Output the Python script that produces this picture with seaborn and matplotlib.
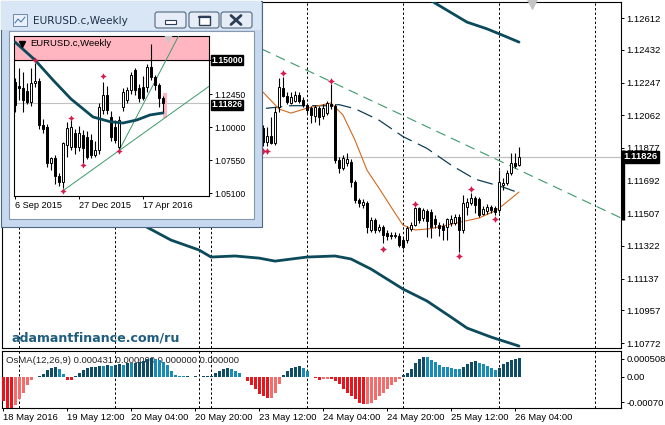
import numpy as np
import matplotlib
matplotlib.use("Agg")
import matplotlib.pyplot as plt
from matplotlib.patches import Rectangle, FancyBboxPatch
import seaborn as sns

sns.set_theme(style="white")
plt.rcParams['font.family'] = ['Liberation Sans', 'DejaVu Sans']

W, H = 665, 425

# ---------------- EURUSD.c H1 (bar 0 = 18 May 2016 20:00) ----------------
first_bar = 65   # earlier bars sit under the weekly window
opens = [1.11989, 1.11912, 1.11944, 1.11903, 1.12108, 1.12216, 1.12170, 1.12131, 1.12142, 1.12176,
         1.12148, 1.12120, 1.12103, 1.12057, 1.12103, 1.12057, 1.12074, 1.12125, 1.12114, 1.11808,
         1.11763, 1.11791, 1.11797, 1.11684, 1.11582, 1.11554, 1.11565, 1.11412, 1.11469, 1.11412,
         1.11429, 1.11395, 1.11384, 1.11378, 1.11378, 1.11355, 1.11355, 1.11418, 1.11440, 1.11537,
         1.11480, 1.11520, 1.11514, 1.11474, 1.11440, 1.11435, 1.11429, 1.11452, 1.11452, 1.11486,
         1.11412, 1.11540, 1.11565, 1.11593, 1.11588, 1.11503, 1.11520, 1.11542, 1.11537, 1.11525,
         1.11667, 1.11678, 1.11735, 1.11791, 1.11780]
highs = [1.12006, 1.11995, 1.12052, 1.12108, 1.12272, 1.12281, 1.12193, 1.12193, 1.12199, 1.12193,
         1.12165, 1.12131, 1.12114, 1.12120, 1.12114, 1.12125, 1.12142, 1.12238, 1.12125, 1.11825,
         1.11837, 1.11848, 1.11814, 1.11695, 1.11593, 1.11588, 1.11576, 1.11486, 1.11480, 1.11446,
         1.11440, 1.11412, 1.11401, 1.11401, 1.11395, 1.11373, 1.11435, 1.11457, 1.11542, 1.11540,
         1.11537, 1.11531, 1.11531, 1.11497, 1.11457, 1.11452, 1.11480, 1.11497, 1.11503, 1.11503,
         1.11610, 1.11593, 1.11621, 1.11604, 1.11599, 1.11548, 1.11559, 1.11554, 1.11548, 1.11752,
         1.11706, 1.11752, 1.11848, 1.11848, 1.11882]
lows = [1.11887, 1.11887, 1.11899, 1.11893, 1.12080, 1.12165, 1.12125, 1.12125, 1.12137, 1.12131,
        1.12108, 1.12074, 1.12018, 1.12023, 1.12006, 1.12040, 1.12063, 1.12097, 1.11791, 1.11735,
        1.11752, 1.11774, 1.11655, 1.11565, 1.11542, 1.11537, 1.11395, 1.11401, 1.11395, 1.11401,
        1.11339, 1.11355, 1.11361, 1.11367, 1.11316, 1.11305, 1.11339, 1.11406, 1.11435, 1.11452,
        1.11463, 1.11373, 1.11367, 1.11423, 1.11378, 1.11355, 1.11355, 1.11435, 1.11440, 1.11287,
        1.11395, 1.11497, 1.11554, 1.11508, 1.11486, 1.11497, 1.11503, 1.11508, 1.11497, 1.11508,
        1.11638, 1.11667, 1.11723, 1.11763, 1.11774]
closes = [1.11910, 1.11944, 1.11907, 1.12080, 1.12221, 1.12170, 1.12137, 1.12165, 1.12176, 1.12142,
          1.12120, 1.12091, 1.12063, 1.12108, 1.12052, 1.12103, 1.12131, 1.12114, 1.11808, 1.11763,
          1.11820, 1.11814, 1.11684, 1.11582, 1.11565, 1.11571, 1.11429, 1.11469, 1.11412, 1.11429,
          1.11384, 1.11378, 1.11378, 1.11384, 1.11327, 1.11316, 1.11423, 1.11440, 1.11537, 1.11469,
          1.11525, 1.11463, 1.11429, 1.11446, 1.11423, 1.11412, 1.11474, 1.11474, 1.11486, 1.11412,
          1.11565, 1.11571, 1.11593, 1.11554, 1.11497, 1.11531, 1.11542, 1.11525, 1.11514, 1.11684,
          1.11678, 1.11735, 1.11791, 1.11774, 1.11826]
last_price = 1.11826

# moving averages / bands, sampled at bars
fast_bars = [65, 69, 72, 76, 82, 85, 88, 91, 94, 98, 100, 103, 107, 111, 119, 123, 125, 129]
fast_ma = [1.12193, 1.12097, 1.12074, 1.12102, 1.12131, 1.12063, 1.11921, 1.11751, 1.11649, 1.11508,
           1.11440, 1.11412, 1.11420, 1.11440, 1.11480, 1.11520, 1.11553, 1.11627]
slow_bars = [60, 65, 72, 81, 84, 88, 94, 100, 106, 112, 118, 125, 129]
slow_ma = [1.12090, 1.12099, 1.12116, 1.12116, 1.12122, 1.12099, 1.12034, 1.11941, 1.11874, 1.11780,
           1.11700, 1.11655, 1.11622]
lower_bars = [35, 42, 49, 52, 58, 64, 68, 76, 83, 87, 92, 100, 106, 112, 116, 122, 129]
lower_band = [1.11440, 1.11355, 1.11299, 1.11259, 1.11265, 1.11253, 1.11236, 1.11259, 1.11265, 1.11248,
              1.11191, 1.11078, 1.11010, 1.10919, 1.10857, 1.10806, 1.10755]
upper_bars = [104, 108, 116, 121, 125, 129]
upper_band = [1.12760, 1.12697, 1.12589, 1.12551, 1.12514, 1.12476]
trend_bars = [50, 155]
trend_prices = [1.12593, 1.11475]

frac_bars = [65, 66, 70, 82, 95, 103, 114, 117, 123]
frac_prices = [1.11861, 1.11861, 1.12299, 1.12257, 1.11304, 1.11559, 1.11265, 1.11644, 1.11474]

price_ticks = [1.12612, 1.12432, 1.12247, 1.12062, 1.11877, 1.11692, 1.11507, 1.11322, 1.11137,
               1.10957, 1.10772]
time_ticks = [0, 16, 32, 48, 64, 80, 96, 112, 128]
time_labels = ["18 May 2016", "19 May 12:00", "20 May 04:00", "20 May 20:00", "23 May 12:00",
               "24 May 04:00", "24 May 20:00", "25 May 12:00", "26 May 04:00"]
day_lines = [4, 28, 49, 52, 76, 100, 124, 148]

# OsMA(12,26,9), units of 1e-5
osma_e5 = [-67, -86, -88, -78, -61, -44, -22, -7, 1, 1.5,
           7.5, 19, 26, 29, 23, 9, -8, -9, 3, 12,
           19, 24, 28, 29, 31, 30.5, 32, 31.5, 34, 35,
           34.5, 38, 37.5, 40, 42, 44, 49, 54, 51, 47,
           42, 32, 17, 5, 2, 1.5, 1.8, 1.2, 1.4, 1.1,
           1.6, 2, 3, 10, 17, 21, 24, 23, 17, 10,
           1, -12, -23, -34, -46, -53, -59, -57, -44, -20,
           5, 17, 25, 29, 31, 25, 17, 1, -4, -8,
           -6, -5, -6, -11, -20, -32, -44, -53, -62, -73,
           -76, -75, -71, -64, -53, -44, -32, -23, -14, -5,
           5, 12, 23, 40, 49, 56, 55, 47, 42, 33,
           29, 27, 25, 23, 21, 28, 35, 42, 44, 40,
           35, 31, 25, 19, 26, 35, 43, 47, 51, 53]
osma_ticks = [0.000508, 0.0, -0.0007]
osma_tick_labels = ["0.000508", "0.00", "-0.00070"]

# ---------------- EURUSD.c Weekly (week 0 = 6 Sep 2015) ----------------
w_open = [1.1336, 1.1310, 1.1290, 1.1270, 1.1190, 1.1330, 1.1345, 1.1015, 1.1000, 1.0730,
          1.0770, 1.0640, 1.0590, 1.0868, 1.0853, 1.0957, 1.0853, 1.0942, 1.0927, 1.0905,
          1.0793, 1.0830, 1.1128, 1.1240, 1.1076, 1.1000, 1.0853, 1.1150, 1.1202, 1.1277,
          1.1426, 1.1290, 1.1300, 1.1300, 1.1448, 1.1374, 1.1314, 1.1217]
w_high = [1.1365, 1.1440, 1.1410, 1.1330, 1.1440, 1.1475, 1.1365, 1.1060, 1.1020, 1.0780,
          1.0790, 1.0660, 1.0890, 1.1040, 1.1050, 1.0990, 1.1010, 1.0980, 1.0970, 1.0950,
          1.0900, 1.1180, 1.1340, 1.1310, 1.1120, 1.1050, 1.1080, 1.1290, 1.1300, 1.1410,
          1.1440, 1.1320, 1.1380, 1.1470, 1.1616, 1.1390, 1.1330, 1.1232]
w_low = [1.1113, 1.1200, 1.1115, 1.1170, 1.1160, 1.1300, 1.0990, 1.0960, 1.0700, 1.0680,
         1.0580, 1.0560, 1.0545, 1.0780, 1.0830, 1.0800, 1.0820, 1.0735, 1.0760, 1.0770,
         1.0775, 1.0800, 1.1100, 1.1100, 1.0900, 1.0880, 1.0840, 1.1120, 1.1180, 1.1250,
         1.1240, 1.1190, 1.1200, 1.1260, 1.1350, 1.1280, 1.1150, 1.1110]
w_close = [1.1165, 1.1290, 1.1200, 1.1185, 1.1330, 1.1345, 1.1015, 1.0990, 1.0730, 1.0770,
           1.0640, 1.0590, 1.0880, 1.0994, 1.1001, 1.0853, 1.0957, 1.0845, 1.0778, 1.0793,
           1.0830, 1.1150, 1.1240, 1.1128, 1.0927, 1.0905, 1.1054, 1.1262, 1.1277, 1.1388,
           1.1277, 1.1217, 1.1217, 1.1448, 1.1374, 1.1314, 1.1217, 1.1183]
w_ma_bars = [0, 5, 9.5, 14, 19.5, 23.75, 27, 30.5, 33.75, 37]
w_ma = [1.1634, 1.1500, 1.1351, 1.1210, 1.1076, 1.1041, 1.1031, 1.1054, 1.1091, 1.1106]
w_frac_bars = [5, 14, 22, 12, 17, 26]
w_frac_prices = [1.1500, 1.1068, 1.1381, 1.0525, 1.0719, 1.0825]
w_line_a = ([11.9, 48.5], [1.0525, 1.1304])
w_line_b = ([26, 41], [1.0825, 1.1685])
w_zone = (37.1, 37.95, 1.1068, 1.1254)
w_price_ticks = [1.15, 1.1245, 1.10, 1.0755, 1.051]
w_price_labels = ["", "1.12450", "1.10000", "1.07550", "1.05100"]
w_time_ticks = [0, 16, 32]
w_time_labels = ["6 Sep 2015", "27 Dec 2015", "17 Apr 2016"]

# ---------------- colours ----------------
band_col = '#0b4a5b'
ma_fast_col = '#d2691e'
ma_slow_col = '#0f3f55'
trend_col = '#3c9a6b'
frac_col = '#d8194a'
pink = '#ffb6c1'


def px_rect(x0, y0, x1, y1):
    return [x0 / W, 1 - y1 / H, (x1 - x0) / W, (y1 - y0) / H]


def candles(a, x, o, h, l, c, width=0.62):
    o, h, l, c = map(np.asarray, (o, h, l, c))
    lo, hi = np.minimum(o, c), np.maximum(o, c)
    a.vlines(x, l, h, color='black', lw=0.8, zorder=4)
    a.bar(x, np.maximum(hi - lo, 1e-6), bottom=lo, width=width,
          color=np.where(c >= o, 'white', 'black'), edgecolor='black', linewidth=0.7, zorder=5)


fig = plt.figure(figsize=(W / 100, H / 100), dpi=100)
fig.patch.set_facecolor('white')

ax = fig.add_axes(px_rect(2, 2, 621, 348), zorder=1)
osc = fig.add_axes(px_rect(2, 351, 621, 408), zorder=1)
for a in (ax, osc):
    a.set_facecolor('white')
    for s in a.spines.values():
        s.set_color('black')
        s.set_linewidth(0.8)
    for d in day_lines:
        a.axvline(d, color='black', lw=0.7, ls=(0, (2.5, 2.2)), zorder=1)

# ---- main price chart ----
ax.axhline(last_price, color='#c0c0c0', lw=0.9, zorder=1)
sns.lineplot(x=lower_bars, y=lower_band, ax=ax, color=band_col, linewidth=2.0, estimator=None, zorder=3)
sns.lineplot(x=upper_bars, y=upper_band, ax=ax, color=band_col, linewidth=2.0, estimator=None, zorder=3)
sns.lineplot(x=trend_bars, y=trend_prices, ax=ax, color=trend_col, linewidth=0.8,
             linestyle=(0, (9, 5.5)), estimator=None, zorder=3)
sns.lineplot(x=slow_bars, y=slow_ma, ax=ax, color=ma_slow_col, linewidth=0.9,
             linestyle=(0, (13, 5.5)), estimator=None, zorder=3)
sns.lineplot(x=fast_bars, y=fast_ma, ax=ax, color=ma_fast_col, linewidth=0.8, estimator=None, zorder=3)
bars = np.arange(first_bar, first_bar + len(opens))
candles(ax, bars, opens, highs, lows, closes)
sns.scatterplot(x=frac_bars, y=frac_prices, ax=ax, marker=(4, 1, 0), s=24, color=frac_col,
                linewidth=0, zorder=6)
ax.scatter([132.25], [1.12690], marker='v', s=45, color='#c4c4c4', zorder=6, clip_on=False)

ax.set_xlim(-0.25, 154.5)
ax.set_ylim(1.10744, 1.12703)
ax.set_xlabel('')
ax.set_ylabel('')
ax.set_xticks([])
ax.yaxis.tick_right()
ax.set_yticks(price_ticks)
ax.set_yticklabels([f"{p:.5f}" for p in price_ticks])
ax.tick_params(axis='y', right=True, left=False, length=2.2, width=0.7, pad=1.5,
               labelsize=6.8, colors='black', direction='out')
ax.plot([1.004, 1.004], [1.11865, 1.11469], transform=ax.get_yaxis_transform(), color='black',
        lw=2.4, clip_on=False, solid_capstyle='butt', zorder=7)
ax.annotate(f"{last_price:.5f}", xy=(1, last_price), xycoords=('axes fraction', 'data'),
            xytext=(1.6, 0), textcoords='offset points', ha='left', va='center', fontsize=6.8,
            fontweight='bold', color='white', annotation_clip=False, zorder=8,
            bbox=dict(boxstyle='square,pad=0.12', fc='black', ec='black'))

# ---- OsMA panel ----
osma = np.array(osma_e5) * 1e-5
prev = np.concatenate([[osma[0]], osma[:-1]])
osma_cols = np.where(osma >= 0,
                     np.where(osma > prev, '#0f4c66', '#1a8bb5'),
                     np.where(osma <= prev, '#e8161c', '#f46c6c'))
osc.bar(np.arange(len(osma)), osma, width=0.75, color=osma_cols, linewidth=0, zorder=3)
osc.text(4 / 619, 0.84, "OsMA(12,26,9) 0.000431 0.000000 0.000000 0.000000", transform=osc.transAxes,
         fontsize=6.8, color='#222222', va='center', ha='left', zorder=2)
osc.set_xlim(-0.25, 154.5)
osc.set_ylim(-0.000861, 0.000722)
osc.yaxis.tick_right()
osc.set_yticks(osma_ticks)
osc.set_yticklabels(osma_tick_labels)
osc.set_xticks(time_ticks)
osc.set_xticklabels(time_labels, ha='left')
osc.tick_params(axis='y', right=True, left=False, length=2.2, width=0.7, pad=1.5,
                labelsize=6.8, colors='black', direction='out')
osc.tick_params(axis='x', bottom=True, length=2.2, width=0.7, pad=1.5,
                labelsize=6.8, colors='black', direction='out')

# ---- window chrome of the weekly chart ----
chrome = fig.add_axes([0, 0, 1, 1], zorder=5)
chrome.set_xlim(0, W)
chrome.set_ylim(H, 0)
chrome.axis('off')
chrome.add_patch(Rectangle((0.5, 0.5), 261, 226.5, fc='#c6d9ef', ec='#4f6784', lw=0.8))
chrome.add_patch(Rectangle((1.2, 1.2), 259.6, 29, fc='#d8e6f6', ec='none'))
chrome.add_patch(Rectangle((9, 31), 245, 188, fc='white', ec='#8797ad', lw=0.8))
chrome.add_patch(Rectangle((13, 14), 14, 12, fc='#eaf1fa', ec='#5a7aa0', lw=0.6))
chrome.plot([15, 18, 21, 25], [23, 19, 22, 17], color='#3f6fa6', lw=0.7)
chrome.text(33, 21, "EURUSD.c,Weekly", fontsize=7.6, family='DejaVu Sans', va='center',
            color='#1e2f48')
for x0, bw in [(155, 31), (189, 30), (221, 31)]:
    chrome.add_patch(FancyBboxPatch((x0, 12), bw, 16, boxstyle='round,pad=0,rounding_size=2.5',
                                    fc='#e6edf6', ec='#55677f', lw=0.8))
chrome.add_patch(Rectangle((165, 20), 11, 3.5, fc='white', ec='#2c3e57', lw=0.8))
chrome.add_patch(Rectangle((198.5, 15.5), 11, 9, fc='white', ec='#2c3e57', lw=1.0))
chrome.plot([198.5, 209.5], [17, 17], color='#2c3e57', lw=1.6)
chrome.plot([231, 241], [15.5, 24.5], color='#2c3e57', lw=2.0)
chrome.plot([231, 241], [24.5, 15.5], color='#2c3e57', lw=2.0)
chrome.text(12, 338, "adamantfinance.com/ru", fontsize=9.1, fontweight='bold', family='DejaVu Sans',
            color='#1f5e80', va='center', ha='left')

# ---- weekly chart inside the window ----
ins = fig.add_axes(px_rect(14, 36, 209, 196), zorder=6)
ins.set_facecolor('white')
for s in ins.spines.values():
    s.set_color('black')
    s.set_linewidth(0.8)
ins.axhspan(1.15, 1.17, color=pink, zorder=0)
ins.axhline(1.15, color='black', lw=0.8, zorder=1)
ins.axhline(last_price, color='#c0c0c0', lw=0.8, zorder=1)
ins.add_patch(Rectangle((w_zone[0], w_zone[2]), w_zone[1] - w_zone[0], w_zone[3] - w_zone[2],
                        fc=pink, ec='none', zorder=2))
sns.lineplot(x=w_line_a[0], y=w_line_a[1], ax=ins, color=trend_col, linewidth=0.7, estimator=None, zorder=3)
sns.lineplot(x=w_line_b[0], y=w_line_b[1], ax=ins, color=trend_col, linewidth=0.7, estimator=None, zorder=3)
candles(ins, np.arange(len(w_open)), w_open, w_high, w_low, w_close)
sns.lineplot(x=w_ma_bars, y=w_ma, ax=ins, color=band_col, linewidth=2.0, estimator=None, zorder=6)
sns.scatterplot(x=w_frac_bars, y=w_frac_prices, ax=ins, marker=(4, 1, 0), s=20, color=frac_col,
                linewidth=0, zorder=7)
ins.scatter([38.25], [1.1665], marker='v', s=30, color='#c8c8c8', zorder=7)
ins.plot([0.04], [0.95], marker='v', ms=4, color='black', transform=ins.transAxes, zorder=8)
ins.text(0.082, 0.95, "EURUSD.c,Weekly", transform=ins.transAxes, fontsize=6.8, va='center',
         ha='left', color='black', zorder=8)
ins.set_xlim(-0.25, 48.5)
ins.set_ylim(1.04877, 1.16787)
ins.set_xlabel('')
ins.set_ylabel('')
ins.yaxis.tick_right()
ins.set_yticks(w_price_ticks)
ins.set_yticklabels(w_price_labels)
ins.set_xticks(w_time_ticks)
ins.set_xticklabels(w_time_labels, ha='left')
ins.tick_params(axis='y', right=True, left=False, length=2.2, width=0.7, pad=1.5,
                labelsize=6.2, colors='black', direction='out')
ins.tick_params(axis='x', bottom=True, length=2.2, width=0.7, pad=1.5,
                labelsize=6.6, colors='black', direction='out')
for val, dy in ((1.15, 0), (last_price, -1.6)):
    ins.annotate(f"{val:.5f}", xy=(1, val), xycoords=('axes fraction', 'data'),
                 xytext=(1.6, dy), textcoords='offset points', ha='left', va='center', fontsize=6.2,
                 fontweight='bold', color='white', annotation_clip=False, zorder=8,
                 bbox=dict(boxstyle='square,pad=0.05', fc='black', ec='black'))

fig.savefig("out.png", dpi=100, facecolor='white')
